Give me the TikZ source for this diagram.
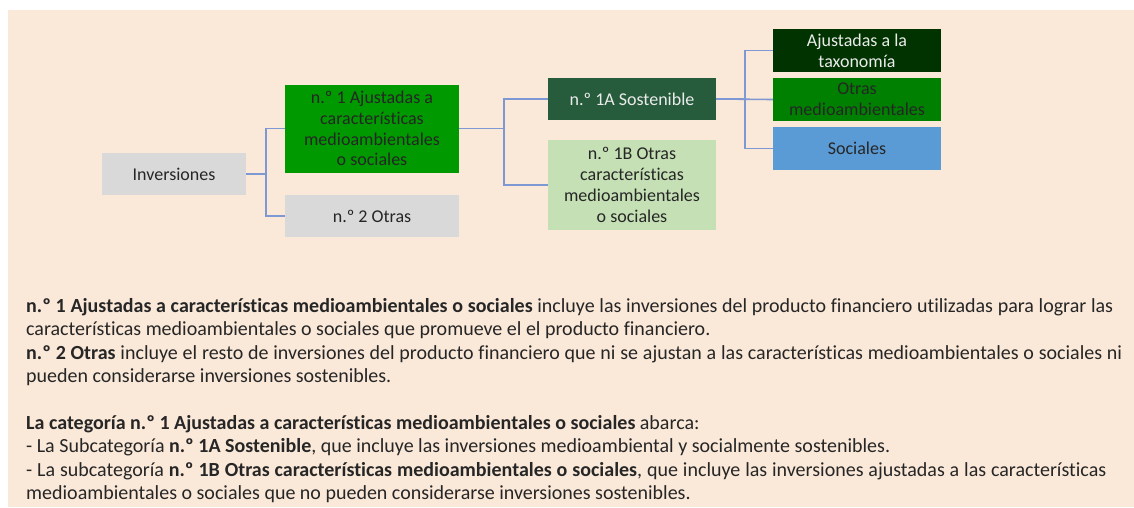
\documentclass[tikz,border=0pt]{standalone}
\usepackage{fontspec}
\setmainfont{Carlito}[Ligatures=NoCommon]
\definecolor{bgpeach}{RGB}{250,232,216}
\definecolor{boxgray}{RGB}{217,217,217}
\definecolor{nonegreen}{RGB}{0,153,0}
\definecolor{oneagreen}{RGB}{38,92,60}
\definecolor{onebgreen}{RGB}{197,224,180}
\definecolor{taxgreen}{RGB}{0,51,0}
\definecolor{othgreen}{RGB}{0,128,0}
\definecolor{socblue}{RGB}{91,155,213}
\definecolor{linkblue}{RGB}{125,152,210}
\definecolor{darktext}{RGB}{38,38,38}
\definecolor{lighttext}{RGB}{235,235,235}
\newcommand{\fullline}[2]{\makebox[#1pt][s]{#2}}
\tikzset{
  box/.style={inner sep=0pt, align=center, text=darktext,
    font=\fontsize{18}{20.8}\selectfont},
  link/.style={draw=linkblue, line width=1.6pt},
  para/.style={anchor=base west, inner sep=0pt, text=darktext,
    font=\fontsize{20}{23.5}\selectfont}
}
\begin{document}
\begin{tikzpicture}[x=1pt,y=-1pt]
\useasboundingbox (0,0) rectangle (1134,507);
\fill[white] (0,0) rectangle (1134,507);
\fill[bgpeach] (8,10) rectangle (1134,507);

\node[box, fill=boxgray, minimum width=144pt, minimum height=42pt] (inv) at (174,174) {Inversiones};
\node[box, fill=nonegreen, minimum width=174pt, minimum height=88pt] (n1) at (372,128.5)
  {n.º 1 Ajustadas a\\características\\medioambientales\\o sociales};
\node[box, fill=boxgray, minimum width=174pt, minimum height=42pt] (n2) at (372,216) {n.º 2 Otras};
\node[box, fill=oneagreen, text=lighttext, minimum width=168pt, minimum height=42pt] (n1a) at (632,99) {n.º 1A Sostenible};
\node[box, fill=onebgreen, minimum width=168pt, minimum height=90pt] (n1b) at (632,185)
  {n.º 1B Otras\\características\\medioambientales\\o sociales};
\node[box, fill=taxgreen, text=lighttext, minimum width=168pt, minimum height=43pt] (tax) at (857,50.5) {Ajustadas a la\\taxonomía};
\node[box, fill=othgreen, minimum width=168pt, minimum height=43pt] (oth) at (857,99.5) {Otras\\medioambientales};
\node[box, fill=socblue, minimum width=168pt, minimum height=43pt] (soc) at (857,148.5) {Sociales};

\draw[link] (inv.east) -- ++(20,0) |- (n1.west);
\draw[link] (inv.east) -- ++(20,0) |- (n2.west);
\draw[link] (n1.east) -- ++(45,0) |- (n1a.west);
\draw[link] (n1.east) -- ++(45,0) |- (n1b.west);
\draw[link] (n1a.east) -- ++(29,0) |- (tax.west);
\draw[link] (n1a.east) -- (oth.west);
\draw[link] (n1a.east) -- ++(29,0) |- (soc.west);

\node[para] (t1) at (26,312) {\fullline{1087}{\textbf{n.º 1 Ajustadas a características medioambientales o sociales} incluye las inversiones del producto financiero utilizadas para lograr las}};
\node[para] (t2) at (26,335.5) {características medioambientales o sociales que promueve el el producto financiero.};
\node[para] (t3) at (26,359) {\fullline{1096}{\textbf{n.º 2 Otras} incluye el resto de inversiones del producto financiero que ni se ajustan a las características medioambientales o sociales ni}};
\node[para] (t4) at (26,382.5) {pueden considerarse inversiones sostenibles.};
\node[para] (t6) at (26,429) {\textbf{La categoría n.º 1 Ajustadas a características medioambientales o sociales} abarca:};
\node[para] (t7) at (26,452.5) {- La Subcategoría \textbf{n.º 1A Sostenible}, que incluye las inversiones medioambiental y socialmente sostenibles.};
\node[para] (t8) at (26,476) {\fullline{1080}{- La subcategoría \textbf{n.º 1B Otras características medioambientales o sociales}, que incluye las inversiones ajustadas a las características}};
\node[para] (t9) at (26,499.5) {medioambientales o sociales que no pueden considerarse inversiones sostenibles.};
\end{tikzpicture}
\end{document}
